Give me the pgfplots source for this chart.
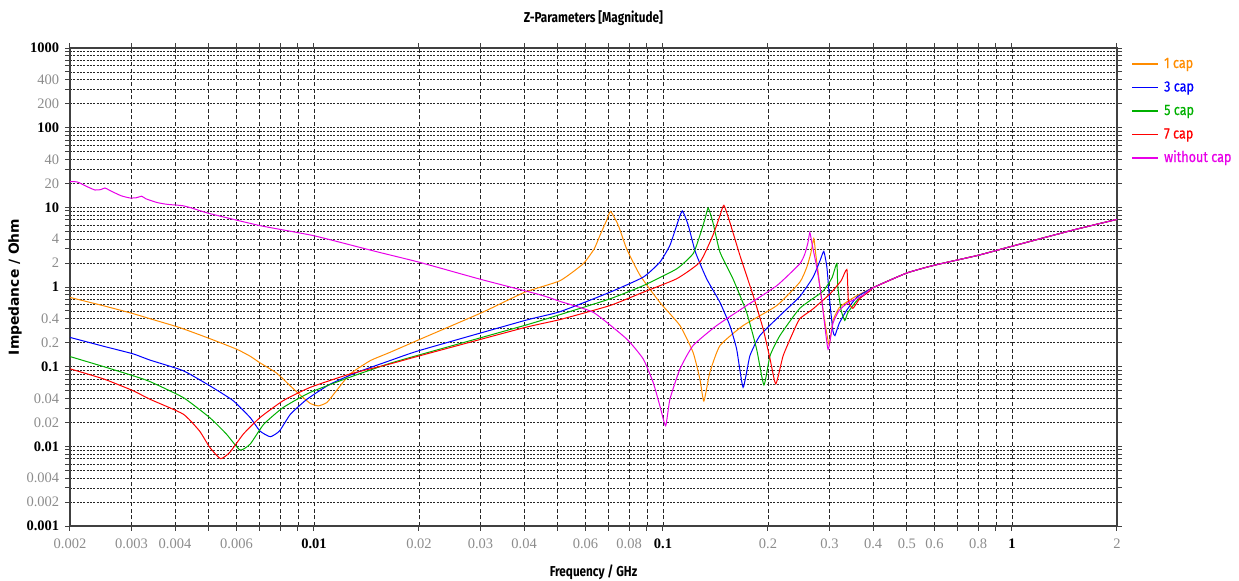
\documentclass[border=0pt]{standalone}
\usepackage{fontspec}
\usepackage{pgfplots}
\pgfplotsset{compat=1.18}
\setmainfont{Fira Sans}
\newfontfamily\condfont[FakeStretch=0.82]{Fira Sans}
\newfontfamily\legfont[FakeStretch=0.84,FakeBold=0.6]{Fira Sans}
\newfontfamily\tickfont{Liberation Serif}
\newfontfamily\ylabfont{DejaVu Sans}

\definecolor{corange}{HTML}{FF8C00}
\definecolor{cblue}{HTML}{0000FF}
\definecolor{cgreen}{HTML}{00B000}
\definecolor{cred}{HTML}{FF0000}
\definecolor{cmag}{HTML}{E800E8}
\definecolor{tickgray}{HTML}{8C8C8C}
\newcommand\gl[1]{\textcolor{tickgray}{#1}}
\newcommand\bl[1]{\textbf{#1}}

\begin{document}
\begin{tikzpicture}
\begin{axis}[
  scale only axis, width=628.2pt, height=286.8pt,
  xmode=log, ymode=log,
  xmin=0.002, xmax=2, ymin=0.001, ymax=1000,
  axis line style={black!75, line width=0.9pt},
  tick align=outside, major tick length=3pt, minor tick length=3pt,
  tick style={black!75, line width=0.6pt},
  xtick={0.002,0.003,0.004,0.006,0.01,0.02,0.03,0.04,0.06,0.08,0.1,0.2,0.3,0.4,0.5,0.6,0.8,1,2},
  xticklabels={\gl{0.002},\gl{0.003},\gl{0.004},\gl{0.006},\bl{0.01},\gl{0.02},\gl{0.03},\gl{0.04},\gl{0.06},\gl{0.08},\bl{0.1},\gl{0.2},\gl{0.3},\gl{0.4},\gl{0.5},\gl{0.6},\gl{0.8},\bl{1},\gl{2}},
  minor xtick={0.005,0.007,0.008,0.009,0.05,0.07,0.09,0.7,0.9},
  ytick={0.001,0.002,0.004,0.01,0.02,0.04,0.1,0.2,0.4,1,2,4,10,20,40,100,200,400,1000},
  yticklabels={\bl{0.001},\gl{0.002},\gl{0.004},\bl{0.01},\gl{0.02},\gl{0.04},\bl{0.1},\gl{0.2},\gl{0.4},\bl{1},\gl{2},\gl{4},\bl{10},\gl{20},\gl{40},\bl{100},\gl{200},\gl{400},\bl{1000}},
  minor ytick={0.003,0.005,0.006,0.007,0.008,0.009,0.03,0.05,0.06,0.07,0.08,0.09,0.3,0.5,0.6,0.7,0.8,0.9,3,5,6,7,8,9,30,50,60,70,80,90,300,500,600,700,800,900},
  tick label style={font=\tickfont\fontsize{8.7}{10}\selectfont},
  xticklabel style={yshift=-1.2pt},
  grid=both,
  major x grid style={black!85, line width=0.5pt, dash pattern=on 2.4pt off 1.6pt},
  minor x grid style={black!85, line width=0.5pt, dash pattern=on 2.4pt off 1.6pt},
  major y grid style={black!85, line width=0.55pt, dash pattern=on 1.2pt off 0.8pt},
  minor y grid style={black!85, line width=0.55pt, dash pattern=on 1.2pt off 0.8pt},
  title={Z-Parameters [Magnitude]},
  title style={at={(axis description cs:0.5,1.0314)}, anchor=base, font=\condfont\bfseries\fontsize{8.6}{10}\selectfont},
  xlabel={Frequency / GHz},
  xlabel style={at={(axis description cs:0.5,-0.1046)}, anchor=base, font=\condfont\bfseries\fontsize{8.6}{10}\selectfont},
  ylabel={Impedance / Ohm},
  ylabel style={at={(axis description cs:-0.0525,0.5)}, anchor=center, font=\ylabfont\bfseries\fontsize{8.3}{10}\selectfont},
  legend style={at={(axis description cs:1,1)}, anchor=north west, draw=none, fill=none,
    xshift=8.4pt, yshift=-4.8pt, inner sep=0pt, row sep=5.1pt, column sep=3.2pt,
    nodes={inner sep=0pt, text height=7pt, text depth=2pt},
    font=\legfont\fontsize{9}{10}\selectfont},
  legend cell align=left,
  legend image code/.code={\draw[#1, line width=0.9pt] (0pt,0pt) -- (15.6pt,0pt);},
  every axis plot/.append style={line width=0.6pt, smooth, tension=0.3},
]
% 1 cap
\addplot[corange] coordinates {
(0.002,0.74) (0.0025,0.58) (0.00303,0.464) (0.00339,0.40) (0.00412,0.31)
(0.00503,0.225) (0.00602,0.165) (0.00657,0.135) (0.0070,0.112) (0.00782,0.083)
(0.00857,0.057) (0.00917,0.0434)
(0.00976,0.0346) (0.0103,0.0322) (0.0109,0.0356) (0.0116,0.05) (0.0127,0.081)
(0.0145,0.119) (0.0165,0.151) (0.0201,0.22) (0.0303,0.478) (0.0402,0.86)
(0.0507,1.2) (0.0591,1.96) (0.0635,3.0) (0.066,4.44) (0.069,6.9) (0.0708,8.9)
(0.0745,5.94) (0.0787,3.02) (0.086,1.4) (0.098,0.64) (0.1119,0.328)
(0.122,0.151) (0.1276,0.07) (0.131,0.037) (0.1363,0.085) (0.1457,0.184)
(0.1697,0.328) (0.212,0.585) (0.2467,1.15) (0.258,1.75) (0.265,2.6)
(0.2705,4.06) (0.274,2.6) (0.278,1.62) (0.287,0.55) (0.299,0.19)
(0.307,0.38) (0.32,0.55) (0.34,0.67) (0.36,0.78) (0.4,0.98)
(0.5,1.5) (0.6,1.88) (0.8,2.5) (1.0,3.25) (1.5,5.2) (2.0,7.06)};
\addlegendentry{\textcolor{corange}{1 cap}}
% 3 cap
\addplot[cblue] coordinates {
(0.002,0.233) (0.0025,0.18) (0.00303,0.145) (0.00339,0.121) (0.00422,0.089)
(0.00503,0.0576) (0.00587,0.0374) (0.00657,0.0229) (0.0070,0.0156) (0.0075,0.0132)
(0.00797,0.0156) (0.00857,0.0254) (0.00955,0.039) (0.0111,0.06) (0.0133,0.085)
(0.0165,0.119) (0.0201,0.16) (0.0402,0.38) (0.0507,0.49) (0.0705,0.86)
(0.0878,1.33) (0.098,2.05) (0.1047,3.33) (0.1095,5.94) (0.1136,9.0)
(0.1182,5.94) (0.1239,2.74) (0.1334,1.27) (0.1457,0.64) (0.1555,0.328)
(0.1626,0.167) (0.1697,0.055) (0.1775,0.137) (0.1897,0.246) (0.2164,0.438)
(0.2467,0.76) (0.269,1.32) (0.282,2.15) (0.289,2.8) (0.295,1.76)
(0.301,0.62) (0.307,0.28) (0.311,0.245) (0.32,0.35) (0.336,0.51)
(0.36,0.75) (0.4,0.98)
(0.5,1.5) (0.6,1.88) (0.8,2.5) (1.0,3.25) (1.5,5.2) (2.0,7.06)};
\addlegendentry{\textcolor{cblue}{3 cap}}
% 5 cap
\addplot[cgreen] coordinates {
(0.002,0.134) (0.0025,0.1) (0.00303,0.077) (0.00339,0.065) (0.00422,0.041)
(0.00503,0.0229) (0.00561,0.0143) (0.00614,0.009) (0.00657,0.0107) (0.00718,0.0189)
(0.00816,0.0307) (0.00976,0.0476) (0.0127,0.074) (0.0165,0.11) (0.0201,0.141)
(0.0402,0.33) (0.0507,0.45) (0.0705,0.71) (0.0878,1.04) (0.1095,1.69)
(0.122,2.62) (0.1276,4.44) (0.132,7.2) (0.1348,9.8) (0.139,6.5)
(0.1457,2.74) (0.1587,1.27) (0.1737,0.48) (0.1855,0.167) (0.1947,0.059)
(0.2027,0.137) (0.2164,0.246) (0.2467,0.54) (0.287,0.88) (0.305,1.3)
(0.315,1.98) (0.317,1.0) (0.324,0.51) (0.332,0.38) (0.339,0.48)
(0.36,0.68) (0.4,0.98)
(0.5,1.5) (0.6,1.88) (0.8,2.5) (1.0,3.25) (1.5,5.2) (2.0,7.06)};
\addlegendentry{\textcolor{cgreen}{5 cap}}
% 7 cap
\addplot[cred] coordinates {
(0.002,0.094) (0.0025,0.07) (0.00303,0.05) (0.00339,0.039) (0.00422,0.0254)
(0.0047,0.0156) (0.00503,0.0097) (0.0054,0.007) (0.00574,0.0084) (0.00628,0.0143)
(0.0070,0.0229) (0.00816,0.0374) (0.00976,0.055) (0.0127,0.081) (0.0165,0.108)
(0.0201,0.137) (0.0402,0.31) (0.0507,0.39) (0.0705,0.585) (0.0878,0.86)
(0.1095,1.27) (0.1276,2.05) (0.139,4.44) (0.1457,7.9) (0.1495,10.6)
(0.1555,6.5) (0.1662,2.49) (0.1814,0.78) (0.1937,0.298) (0.2027,0.125)
(0.2106,0.0607) (0.221,0.137) (0.236,0.27) (0.2467,0.4) (0.269,0.53)
(0.301,0.82) (0.324,1.2) (0.3366,1.66) (0.34,0.68) (0.35,0.54)
(0.367,0.72) (0.393,0.9) (0.4,0.98)
(0.5,1.5) (0.6,1.88) (0.8,2.5) (1.0,3.25) (1.5,5.2) (2.0,7.06)};
\addlegendentry{\textcolor{cred}{7 cap}}
% without cap
\addplot[cmag] coordinates {
(0.002,21) (0.0021,20.8) (0.00225,18) (0.00236,16.5) (0.00245,16.7)
(0.00252,17.5) (0.0026,16.3) (0.0028,14) (0.00297,13.1) (0.0031,13.2)
(0.00321,13.8) (0.0033,12.8) (0.00355,11.5) (0.0038,10.9) (0.0042,10.5)
(0.0045,9.7) (0.005,8.4) (0.007,5.9) (0.01,4.4) (0.015,2.8)
(0.02,2.05) (0.03,1.25) (0.0444,0.8) (0.0507,0.66) (0.0632,0.48)
(0.0787,0.223) (0.0878,0.125) (0.0938,0.063) (0.098,0.0322) (0.1018,0.0181)
(0.1047,0.039) (0.1119,0.094) (0.122,0.184) (0.1425,0.328) (0.1737,0.585)
(0.212,1.04) (0.2467,1.96) (0.255,2.6) (0.2603,3.6) (0.2636,4.85)
(0.268,3.3) (0.276,1.76) (0.285,0.7) (0.2972,0.165) (0.307,0.35)
(0.32,0.51) (0.34,0.64) (0.373,0.78) (0.4,0.98) (0.5,1.5)
(0.6,1.88) (0.8,2.5) (1.0,3.25) (1.5,5.2) (2.0,7.06)};
\addlegendentry{\textcolor{cmag}{without cap}}
\end{axis}
\pgfresetboundingbox
\path[use as bounding box] (-42pt,-32.4pt) rectangle (701.4pt,315.6pt);
\end{tikzpicture}
\end{document}
